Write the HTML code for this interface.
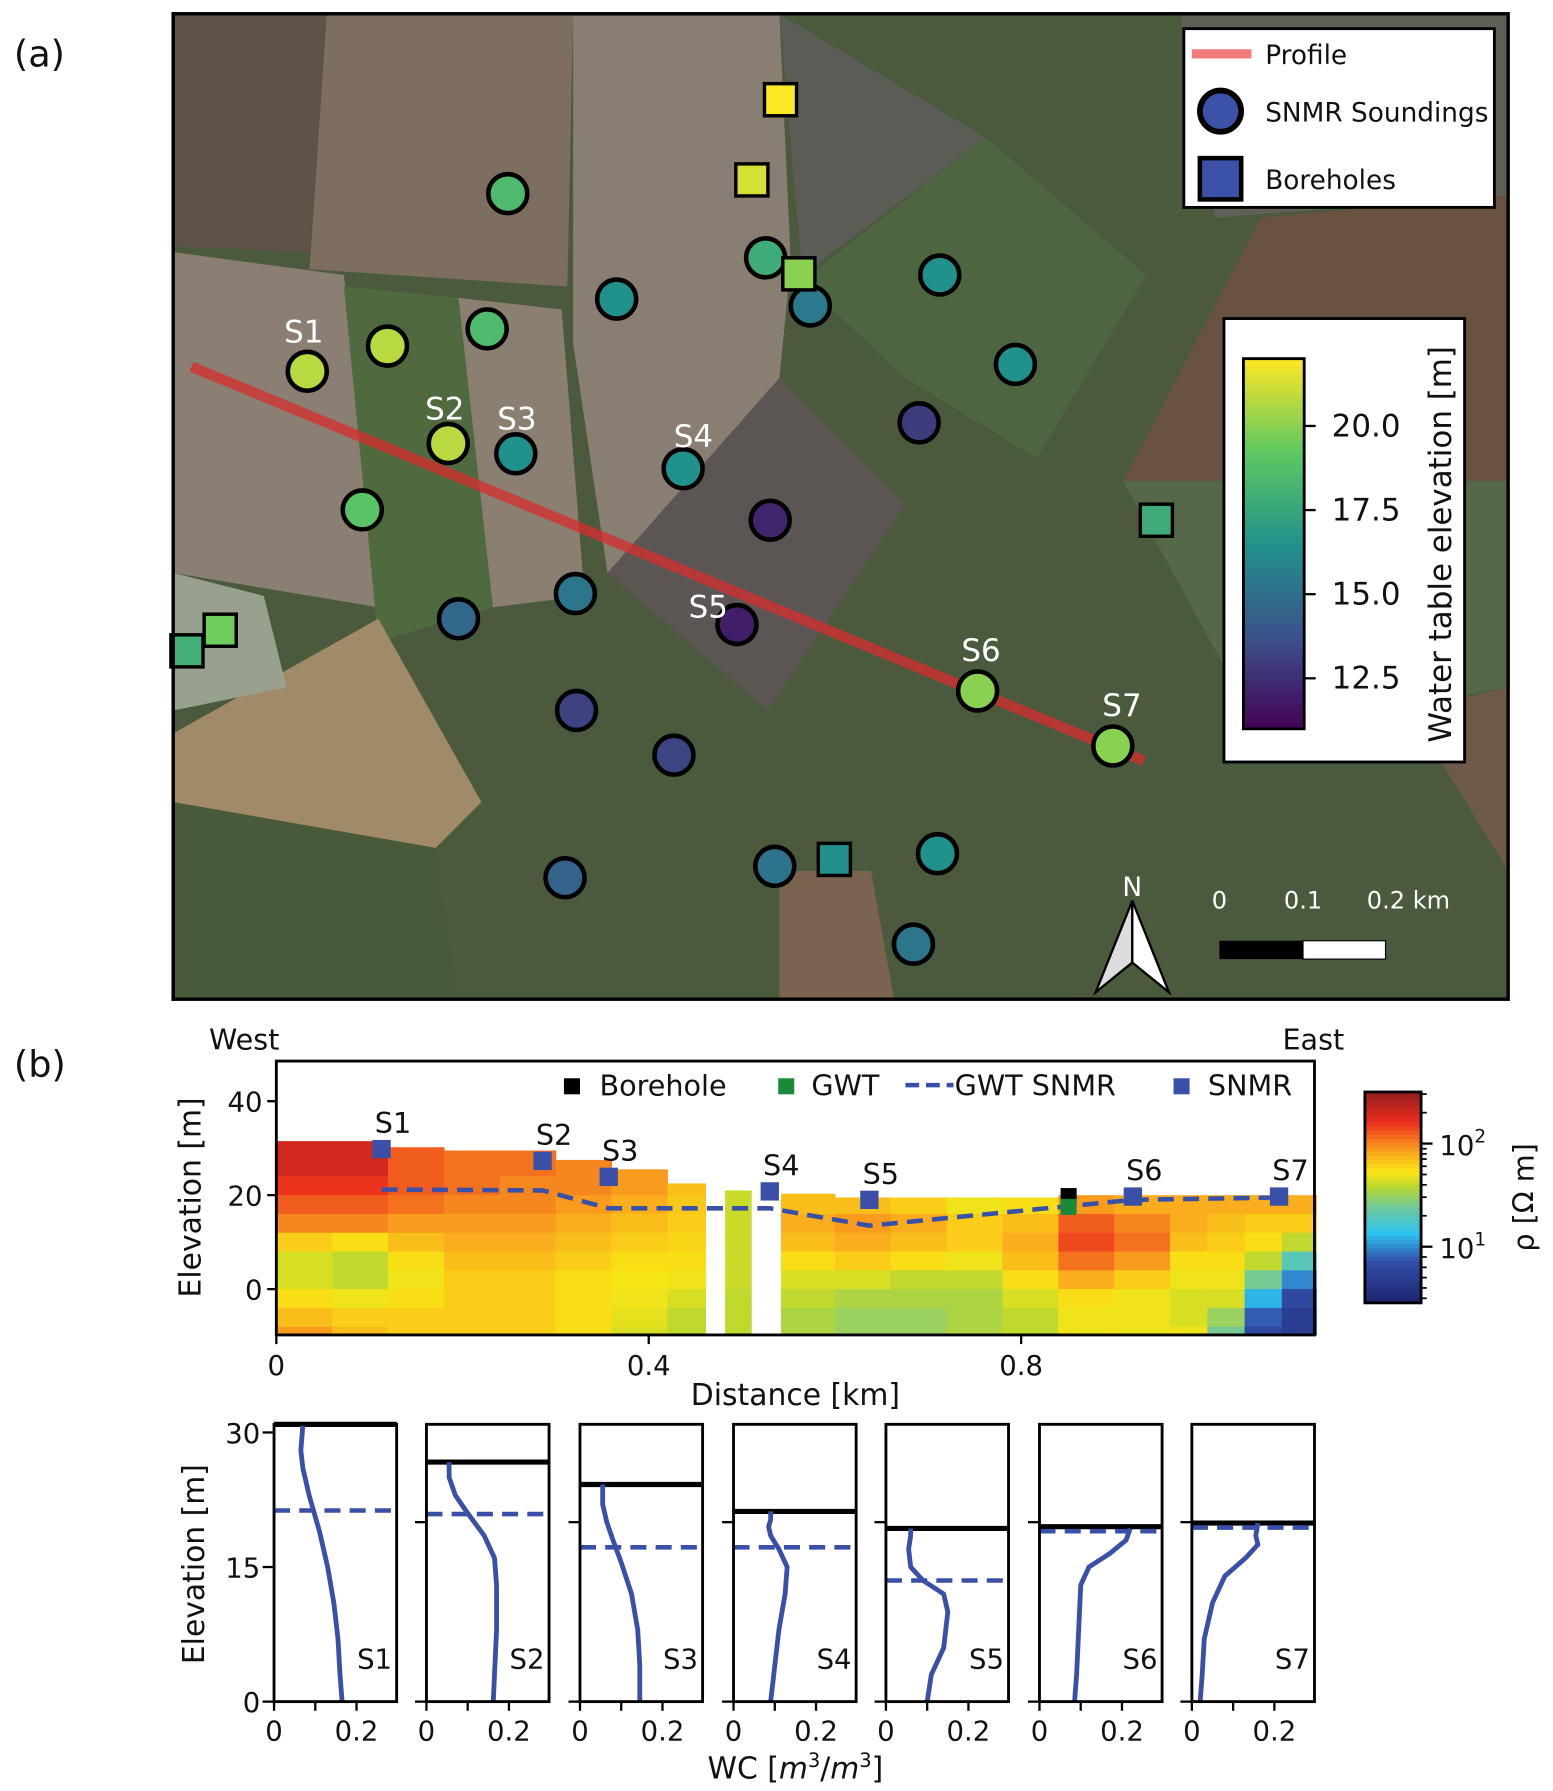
<!DOCTYPE html>
<html><head><meta charset="utf-8"><style>
html,body{margin:0;padding:0;background:#fff}
svg{display:block}
text{font-family:"DejaVu Sans","Liberation Sans",sans-serif;fill:#111}
</style></head><body>
<svg id="fig" width="1553" height="1791" viewBox="0 0 1355 1563" xmlns="http://www.w3.org/2000/svg">
<g id="mapG"></g>
<g id="secG"></g>
<g id="wcG"></g>
</svg>
<script>
// ---------- data ----------
const soundX=[443,538,668,707,820,886,802,425,338,268,391,450,596,316,672,502,400,643,853,971,503,588,493,676,818,797];
const soundY=[169,261,225,267,240,318,369,287,302,324,387,396,409,445,454,518,540,545,603,651,620,659,766,756,745,824];
const soundV=[18.5,16.5,17.8,15.5,16.5,16.5,13,18.5,20.8,20.8,20.8,16.5,16.5,19,12.2,15.3,14.7,12,20,20,13.2,13.3,14.5,15.2,16.5,15.3];
const boreX=[681,656,697,1009,192,163,728];
const boreY=[87,157,239,454,550,568,750];
const boreV=[22,21.3,20,17.8,19.5,18,16.5];
const siteNames=["S1","S2","S3","S4","S5","S6","S7"];
const siteLabelX=[265,388,451,605,618,856,979];
const siteLabelY=[290,357,366,381,530,568,616];
const cbTicks=[12.5,15.0,17.5,20.0];

const colEdges0=[0,0.06,0.12,0.18,0.24,0.30,0.36,0.42,0.482,0.542,0.60,0.66,0.72,0.78,0.84,0.90,0.96,1.00,1.04,1.08];
const colEdges1=[0.06,0.12,0.18,0.24,0.30,0.36,0.42,0.461,0.51,0.60,0.66,0.72,0.78,0.84,0.90,0.96,1.00,1.04,1.08,1.117];
const colSurf=[31.5,31.5,30.2,29.5,29.5,27.5,25.5,22.5,21,20.3,19.5,19.5,19.5,19.5,20,20,20,20,20,20];
const rowTops=[32,28,24,20,16,12,8,4,0,-4,-8];
const logRho=[
[2.3,2.3,2.2,2.1,2.0,1.8,1.65,1.65,1.75,1.85,1.95],
[2.3,2.3,2.2,2.1,2.0,1.75,1.6,1.6,1.7,1.8,1.85],
[2.1,2.1,2.1,2.05,1.95,1.85,1.75,1.7,1.75,1.8,1.8],
[2.05,2.05,2.05,2.0,1.95,1.9,1.85,1.8,1.8,1.8,1.8],
[2.05,2.05,2.0,2.0,1.95,1.9,1.85,1.8,1.8,1.8,1.8],
[2.0,2.0,2.0,1.95,1.9,1.85,1.8,1.75,1.75,1.75,1.75],
[1.95,1.95,1.95,1.9,1.85,1.8,1.75,1.72,1.7,1.68,1.65],
[1.85,1.85,1.85,1.82,1.8,1.78,1.75,1.7,1.65,1.6,1.6],
[1.62,1.62,1.62,1.62,1.62,1.62,1.62,1.62,1.6,1.6,1.6],
[1.85,1.85,1.85,1.85,1.9,1.85,1.75,1.65,1.6,1.55,1.55],
[1.85,1.85,1.85,1.85,1.95,1.9,1.8,1.65,1.55,1.5,1.5],
[1.8,1.8,1.8,1.8,1.9,1.85,1.75,1.6,1.55,1.5,1.5],
[1.7,1.7,1.7,1.7,1.8,1.8,1.7,1.6,1.55,1.55,1.55],
[1.75,1.75,1.75,1.75,1.85,1.9,1.85,1.75,1.65,1.6,1.6],
[1.9,1.9,1.9,1.95,2.1,2.15,2.05,1.9,1.75,1.7,1.7],
[1.85,1.85,1.85,1.9,2.0,2.05,1.95,1.8,1.7,1.7,1.7],
[1.85,1.85,1.85,1.9,1.9,1.85,1.75,1.7,1.65,1.65,1.7],
[1.9,1.9,1.9,1.9,1.85,1.8,1.75,1.7,1.65,1.5,1.4],
[1.95,1.95,1.95,1.9,1.8,1.75,1.6,1.4,1.1,0.9,0.8],
[1.95,1.95,1.95,1.9,1.8,1.6,1.3,1.0,0.8,0.7,0.7]];
const snmrDist=[0.113,0.286,0.357,0.53,0.637,0.92,1.077];
const snmrElev=[29.8,27.3,23.9,20.8,19.0,19.7,19.7];
const gwtSnmr=[21.2,21.0,17.2,17.2,13.5,19.0,19.5];
const boreDist=0.851, boreElev=19.8, gwtBoreElev=17.5;
const secXTicks=[0,0.4,0.8], secYTicks=[0,20,40];

const surfElev=[30.9,26.7,24.2,21.2,19.3,19.5,19.9];
const gwtElev=[21.3,20.9,17.2,17.2,13.5,19.0,19.4];
const wcVals=[
[0.07,0.065,0.07,0.085,0.11,0.13,0.145,0.155,0.16,0.165],
[0.055,0.055,0.07,0.1,0.14,0.165,0.17,0.17,0.165,0.162],
[0.055,0.055,0.065,0.08,0.1,0.125,0.14,0.145,0.145],
[0.09,0.09,0.085,0.09,0.11,0.13,0.125,0.11,0.1,0.09],
[0.06,0.06,0.055,0.06,0.09,0.14,0.15,0.14,0.11,0.1],
[0.22,0.21,0.17,0.12,0.1,0.095,0.09,0.085],
[0.16,0.155,0.16,0.13,0.08,0.05,0.03,0.025,0.02]];
const wcElev=[
[30.9,28,26,23,19,15,11,7,3,0],
[26.7,25,23,21,18.5,16,13,8,3,0],
[24.2,22,20,18,15.5,12,8,4,0],
[21.2,20.3,19.5,18.5,17,15,12,8,4,0],
[19.3,18.5,17,15,13.5,12,10,6,3,0],
[19.3,18,16.5,15,13,8,3,0],
[19.9,18.5,17.5,16,14,11,7,3,0]];

// ---------- helpers ----------
const NS="http://www.w3.org/2000/svg";
function mk(tag,attrs,parent){const e=document.createElementNS(NS,tag);for(const k in attrs)e.setAttribute(k,attrs[k]);parent.appendChild(e);return e;}
function txt(s,attrs,parent){const e=mk("text",attrs,parent);e.textContent=s;return e;}
function lerpStops(stops,t){t=Math.max(0,Math.min(1,t));for(let i=1;i<stops.length;i++){if(t<=stops[i][0]){const a=stops[i-1],b=stops[i];const f=(t-a[0])/(b[0]-a[0]);const c=[0,1,2].map(j=>Math.round(a[1][j]+(b[1][j]-a[1][j])*f));return `rgb(${c[0]},${c[1]},${c[2]})`;}}const l=stops[stops.length-1][1];return `rgb(${l[0]},${l[1]},${l[2]})`;}
const VIR=[[0,[68,1,84]],[0.25,[59,82,139]],[0.5,[33,145,140]],[0.75,[94,201,98]],[1,[253,231,37]]];
const JET=[[0,[30,35,110]],[0.2,[50,80,170]],[0.33,[45,195,240]],[0.45,[110,200,160]],[0.55,[185,215,50]],[0.62,[250,230,20]],[0.72,[250,165,30]],[0.86,[235,45,30]],[1,[150,30,30]]];
const vir=v=>lerpStops(VIR,(v-11)/(22-11));
const jet=l=>lerpStops(JET,(l-0.46)/(2.5-0.46));

// ---------- map ----------
const M=document.getElementById("mapG");
mk("rect",{x:151,y:12,width:1165,height:860,fill:"#4b5a3c"},M);
const fields=[
["#5e5249","151,12 285,12 270,220 151,215"],
["#7d6e60","285,12 500,12 495,250 270,235"],
["#887e72","500,12 680,12 690,230 680,330 530,500 500,300"],
["#616058","680,12 1030,12 1060,190 1316,170 1316,12"],
["#5a5c55","680,12 860,120 700,240"],
["#4e6640","700,245 860,120 1000,240 905,400 790,330"],
["#8a7f72","151,220 300,240 330,530 151,500"],
["#4f6a3e","300,250 400,260 430,530 330,560"],
["#8a7f70","400,260 490,270 510,520 430,530"],
["#5b5553","530,500 680,330 790,440 670,620"],
["#a08a68","151,640 330,540 420,700 380,740 151,700"],
["#485a3a","151,700 380,740 400,872 151,872"],
["#7a6450","680,760 760,760 780,872 680,872"],
["#6a5242","1100,190 1316,170 1316,420 980,420"],
["#55684a","980,420 1316,420 1316,600 1100,640"],
["#6e5a4a","1230,620 1316,600 1316,760"],
["#9aa08e","151,500 230,520 250,600 151,620"]];
fields.forEach(f=>{const p=mk("polygon",{points:f[1],fill:f[0]},M);});
const prof=mk("line",{x1:167,y1:320,x2:998,y2:664,stroke:"rgba(215,45,45,0.75)","stroke-width":9},M);

for(let i=0;i<soundX.length;i++){const c=mk("circle",{cx:soundX[i],cy:soundY[i],r:17,fill:vir(soundV[i]),stroke:"#000","stroke-width":4},M);
}
for(let i=0;i<boreX.length;i++){const r=mk("rect",{x:boreX[i]-14,y:boreY[i]-14,width:28,height:28,fill:vir(boreV[i]),stroke:"#000","stroke-width":3},M);
}
for(let i=0;i<siteNames.length;i++){const t=txt(siteNames[i],{x:siteLabelX[i],y:siteLabelY[i]+9,"font-size":27,"text-anchor":"middle",style:"fill:#fff"},M);
}
mk("rect",{x:151,y:12,width:1165,height:860,fill:"none",stroke:"#000","stroke-width":3},M);
const L=mk("g",{},M);
mk("rect",{x:1033,y:25,width:271,height:156,fill:"#fff",stroke:"#000","stroke-width":2.5},L);
mk("line",{x1:1040,y1:47,x2:1092,y2:47,stroke:"#f07c7c","stroke-width":8},L);
txt("Profile",{x:1104,y:56,"font-size":23},L);
mk("circle",{cx:1065,cy:97,r:18,fill:"#3b52a8",stroke:"#000","stroke-width":5},L);
txt("SNMR Soundings",{x:1104,y:106,"font-size":23},L);
mk("rect",{x:1047,y:138,width:36,height:36,fill:"#3b52a8",stroke:"#000","stroke-width":4},L);
txt("Boreholes",{x:1104,y:165,"font-size":23},L);
const C=mk("g",{},M);
mk("rect",{x:1068,y:278,width:210,height:387,fill:"#fff",stroke:"#000","stroke-width":2.5},C);
const cbTop=313,cbBot=636,cbY=v=>cbBot-(v-11)/(22-11)*(cbBot-cbTop);
for(let k=0;k<60;k++){const v0=11+k*11/60,v1=11+(k+1)*11/60;mk("rect",{x:1085,y:cbY(v1),width:53,height:cbY(v0)-cbY(v1)+0.6,fill:vir((v0+v1)/2)},C);}
mk("rect",{x:1085,y:cbTop,width:53,height:cbBot-cbTop,fill:"none",stroke:"#000","stroke-width":2.5},C);
cbTicks.forEach(v=>{mk("line",{x1:1138,x2:1148,y1:cbY(v),y2:cbY(v),stroke:"#000","stroke-width":2},C);txt(v.toFixed(1),{x:1162,y:cbY(v)+9,"font-size":27},C);});
txt("Water table elevation [m]",{x:0,y:0,"font-size":27,"text-anchor":"middle",transform:"translate(1266,475) rotate(-90)"},C);
const S=mk("g",{},M);
txt("0",{x:1064,y:793,"font-size":21,"text-anchor":"middle",style:"fill:#fff"},S);
txt("0.1",{x:1137,y:793,"font-size":21,"text-anchor":"middle",style:"fill:#fff"},S);
txt("0.2 km",{x:1229,y:793,"font-size":21,"text-anchor":"middle",style:"fill:#fff"},S);
mk("rect",{x:1064,y:821,width:73,height:16,fill:"#000"},S);
mk("rect",{x:1137,y:821,width:72,height:16,fill:"#fff",stroke:"#000","stroke-width":1},S);
const N=mk("g",{},M);
mk("polygon",{points:"988,786 956,866 988,840",fill:"#ddd",stroke:"#000","stroke-width":2},N);
mk("polygon",{points:"988,786 1020,866 988,840",fill:"#fff",stroke:"#000","stroke-width":2},N);
txt("N",{x:988,y:782,"font-size":23,"text-anchor":"middle",style:"fill:#fff"},N);
txt("(a)",{x:12,y:58,"font-size":32},M);

// ---------- section ----------
const G=document.getElementById("secG");
const sx=d=>241+d*812.5, sy=e=>1125-e*4.1;
const AX0=241,AX1=1147,AY0=926,AY1=1165;
for(let c=0;c<colEdges0.length;c++){for(let r=0;r<rowTops.length;r++){
 const top=Math.min(rowTops[r],colSurf[c]), bot=Math.max(rowTops[r]-4,-9.75);
 if(top<=bot)continue;
 const cell=mk("rect",{x:sx(colEdges0[c]),y:sy(top),width:sx(colEdges1[c])-sx(colEdges0[c])+0.5,height:sy(bot)-sy(top)+0.5,fill:jet(logRho[c][r])},G);
 }}
mk("rect",{x:AX0,y:AY0,width:AX1-AX0,height:AY1-AY0,fill:"none",stroke:"#000","stroke-width":2.5},G);
const gw=mk("polyline",{points:snmrDist.map((d,i)=>sx(d)+","+sy(gwtSnmr[i])).join(" "),fill:"none",stroke:"#3a50a8","stroke-width":4,"stroke-dasharray":"14 8"},G);

const bh=mk("rect",{x:sx(boreDist)-7,y:sy(boreElev)-7,width:14,height:14,fill:"#000"},G);

const gb=mk("rect",{x:sx(boreDist)-7,y:sy(gwtBoreElev)-7,width:14,height:14,fill:"#1a8a3a"},G);

for(let i=0;i<snmrDist.length;i++){const q=mk("rect",{x:sx(snmrDist[i])-8,y:sy(snmrElev[i])-8,width:16,height:16,fill:"#3a50a8"},G);

txt(siteNames[i],{x:sx(snmrDist[i])+10,y:sy(snmrElev[i])-14,"font-size":25,"text-anchor":"middle"},G);}
secXTicks.forEach(v=>{mk("line",{x1:sx(v),x2:sx(v),y1:AY1,y2:AY1+8,stroke:"#000","stroke-width":2},G);txt(String(v),{x:sx(v),y:1200,"font-size":24,"text-anchor":"middle"},G);});
secYTicks.forEach(v=>{mk("line",{x1:AX0-8,x2:AX0,y1:sy(v),y2:sy(v),stroke:"#000","stroke-width":2},G);txt(String(v),{x:AX0-12,y:sy(v)+9,"font-size":24,"text-anchor":"end"},G);});
txt("Elevation [m]",{x:0,y:0,"font-size":26,"text-anchor":"middle",transform:"translate(175,1045) rotate(-90)"},G);
txt("Distance [km]",{x:694,y:1226,"font-size":26,"text-anchor":"middle"},G);
txt("West",{x:213,y:916,"font-size":25,"text-anchor":"middle"},G);
txt("East",{x:1146,y:916,"font-size":25,"text-anchor":"middle"},G);
txt("(b)",{x:12,y:940,"font-size":32},G);
const SL=mk("g",{},G);
mk("rect",{x:492,y:941,width:14,height:14,fill:"#000"},SL);txt("Borehole",{x:523,y:956,"font-size":25},SL);
mk("rect",{x:679,y:941,width:14,height:14,fill:"#1a8a3a"},SL);txt("GWT",{x:708,y:956,"font-size":25},SL);
mk("line",{x1:790,x2:832,y1:947,y2:947,stroke:"#3a50a8","stroke-width":4,"stroke-dasharray":"12 6"},SL);txt("GWT SNMR",{x:833,y:956,"font-size":25},SL);
mk("rect",{x:1024,y:941,width:14,height:14,fill:"#3a50a8"},SL);txt("SNMR",{x:1054,y:956,"font-size":25},SL);
const RC=mk("g",{},G);
const rTop=953,rBot=1137,rY=l=>998+(2-l)*90;
for(let k=0;k<50;k++){const l0=0.46+k*2.04/50,l1=l0+2.04/50;mk("rect",{x:1191,y:rY(l1),width:49,height:rY(l0)-rY(l1)+0.6,fill:jet((l0+l1)/2)},RC);}
mk("rect",{x:1191,y:rTop,width:49,height:rBot-rTop,fill:"none",stroke:"#000","stroke-width":2.5},RC);
[2,1].forEach(t=>{mk("line",{x1:1240,x2:1250,y1:rY(t),y2:rY(t),stroke:"#000","stroke-width":2},RC);
const e=txt("10",{x:1256,y:rY(t)+10,"font-size":24},RC);const s=mk("tspan",{dy:-11,"font-size":16},e);s.textContent=String(t);});
[0.5,0.6,0.7,0.8,0.9,1.3,1.48,1.6,1.7,1.78,1.85,1.9,1.95,2.3,2.48].forEach(l=>mk("line",{x1:1240,x2:1245,y1:rY(l),y2:rY(l),stroke:"#000","stroke-width":1.5},RC));
txt("ρ [Ω m]",{x:0,y:0,"font-size":25,"text-anchor":"middle",transform:"translate(1338,1045) rotate(-90)"},RC);

// ---------- water content panels ----------
const W=document.getElementById("wcG");
const pL=[239,372,506,640,773,907,1040], PW=107, PT=1243, PB=1485;
const wy=e=>1485-e*7.83;
for(let p=0;p<7;p++){const g=mk("g",{},W);
 const wx=v=>pL[p]+v*360;
 mk("line",{x1:pL[p],x2:pL[p]+PW,y1:wy(surfElev[p]),y2:wy(surfElev[p]),stroke:"#000","stroke-width":4.5},g);
 mk("line",{x1:pL[p],x2:pL[p]+PW,y1:wy(gwtElev[p]),y2:wy(gwtElev[p]),stroke:"#3a50a8","stroke-width":4,"stroke-dasharray":"14 8"},g);
 const pts=wcVals[p].map((v,i)=>wx(v)+","+wy(wcElev[p][i])).join(" ");
 const cur=mk("polyline",{points:pts,fill:"none",stroke:"#3a50a8","stroke-width":4.2,"stroke-linejoin":"round"},g);
 
 mk("rect",{x:pL[p],y:PT,width:PW,height:PB-PT,fill:"none",stroke:"#000","stroke-width":2.5},g);
 txt(siteNames[p],{x:pL[p]+PW-4,y:1456,"font-size":24,"text-anchor":"end"},g);
 [0,0.1,0.2].forEach(v=>mk("line",{x1:wx(v),x2:wx(v),y1:PB,y2:PB+8,stroke:"#000","stroke-width":2},g));
 txt("0",{x:wx(0),y:1519,"font-size":24,"text-anchor":"middle"},g);
 txt("0.2",{x:wx(0.2),y:1519,"font-size":24,"text-anchor":"middle"},g);
 const yt=p===0?[0,15,30]:[0,20];
 yt.forEach(v=>mk("line",{x1:pL[p]-10,x2:pL[p],y1:wy(v),y2:wy(v),stroke:"#000","stroke-width":2},g));
 if(p===0)yt.forEach(v=>txt(String(v),{x:pL[p]-12,y:wy(v)+9,"font-size":24,"text-anchor":"end"},g));
}
txt("Elevation [m]",{x:0,y:0,"font-size":26,"text-anchor":"middle",transform:"translate(178,1365) rotate(-90)"},W);
const wl=txt("WC [",{x:694,y:1552,"font-size":26,"text-anchor":"middle"},W);
wl.innerHTML='WC [<tspan font-style="italic">m</tspan><tspan dy="-10" font-size="17">3</tspan><tspan dy="10">/</tspan><tspan font-style="italic">m</tspan><tspan dy="-10" font-size="17">3</tspan><tspan dy="10">]</tspan>';
</script>
</body></html>
